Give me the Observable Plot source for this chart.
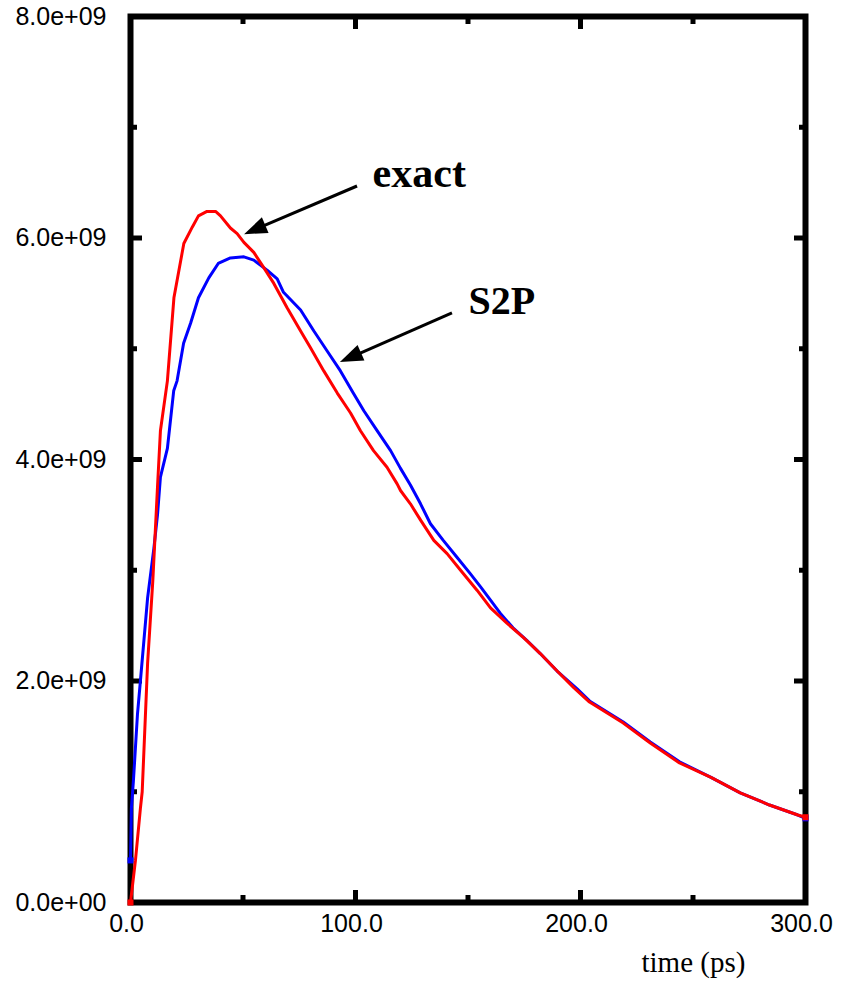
<!DOCTYPE html>
<html>
<head>
<meta charset="utf-8">
<script src="https://cdn.jsdelivr.net/npm/d3@7"></script>
<script src="https://cdn.jsdelivr.net/npm/@observablehq/plot@0.6"></script>
<style>
  html, body { margin: 0; padding: 0; background: #fff; }
</style>
</head>
<body>
<div id="chart"></div>
<script>
// Time axis (ps)
const xTicks = [0, 100, 200, 300];
const xTickLabels = ["0.0", "100.0", "200.0", "300.0"];
const xMinorTicks = [50, 150, 250];
const xTitle = "time (ps)";

// Value axis, in units of 1e9
const yTicks = [0, 2, 4, 6, 8];
const yTickLabels = ["0.0e+00", "2.0e+09", "4.0e+09", "6.0e+09", "8.0e+09"];
const yMinorTicks = [1, 3, 5, 7];

// Exact solution
const tExact = [0, 2.2, 4.4, 5.2, 7.6, 9.9, 12, 13.3, 16.4, 19.3, 23.7, 27.5, 30.2, 34, 37.8, 40, 44.4, 47.4, 50.4, 54.8, 59.3, 63.7, 69.6, 75.6, 80, 85.9, 91.9, 97.8, 102.2, 108, 114, 118.5, 120, 124.4, 129, 134.8, 140.7, 146.7, 154, 160, 167.4, 174.8, 182, 189.6, 197, 204, 219, 231, 244, 258, 271, 284, 296.6, 300];
const vExact = [0, 0.38, 0.85, 1.0, 2.16, 2.9, 3.75, 4.26, 4.71, 5.46, 5.95, 6.1, 6.2, 6.24, 6.24, 6.2, 6.09, 6.04, 5.96, 5.87, 5.73, 5.59, 5.37, 5.16, 5.01, 4.8, 4.6, 4.42, 4.26, 4.08, 3.93, 3.78, 3.72, 3.6, 3.45, 3.27, 3.15, 3.0, 2.82, 2.66, 2.52, 2.39, 2.25, 2.09, 1.94, 1.81, 1.62, 1.44, 1.26, 1.13, 0.99, 0.88, 0.79, 0.77];

// S2P solution
const tS2P = [0, 0.4, 1.3, 3.1, 4.4, 7.6, 10.4, 12, 13.3, 16.4, 19.2, 20.7, 23.6, 26.7, 30.2, 34.8, 39, 44.4, 50.4, 54.8, 60.7, 65.2, 68, 75.6, 81.5, 87.4, 93.3, 99, 103.7, 109.6, 115.6, 120, 124.4, 128.9, 133.3, 139, 145, 151, 155.6, 160, 164.4, 170, 176, 182, 189.6, 198.5, 204, 219, 231, 244, 258, 271, 284, 296.6, 300];
const vS2P = [0.38, 0.85, 1.1, 1.7, 2.0, 2.75, 3.2, 3.5, 3.84, 4.1, 4.62, 4.71, 5.05, 5.23, 5.46, 5.64, 5.77, 5.82, 5.83, 5.8, 5.71, 5.63, 5.51, 5.35, 5.16, 4.98, 4.8, 4.6, 4.44, 4.26, 4.08, 3.92, 3.77, 3.6, 3.42, 3.27, 3.12, 2.97, 2.85, 2.73, 2.61, 2.48, 2.37, 2.25, 2.09, 1.93, 1.82, 1.63, 1.45, 1.27, 1.13, 0.99, 0.88, 0.79, 0.76];

// Curve labels and their arrows (label anchor, arrow tail and head)
const labelNames = ["exact", "S2P"];
const labelT = [107.6, 150.2];
const labelV = [6.456, 5.31];
const labelSize = [42, 40];
const arrowT1 = [100.9, 143.1];
const arrowV1 = [6.465, 5.32];
const arrowT2 = [50.7, 93.3];
const arrowV2 = [6.03, 4.876];

const exact = tExact.map((t, i) => ({t, v: vExact[i]}));
const s2p = tS2P.map((t, i) => ({t, v: vS2P[i]}));
const labels = labelNames.map((name, i) => ({name, t: labelT[i], v: labelV[i], size: labelSize[i]}));
const arrows = arrowT1.map((t1, i) => ({t1, v1: arrowV1[i], t2: arrowT2[i], v2: arrowV2[i]}));
const ends = (rows) => [rows[0], rows[rows.length - 1]];

// Arrows with solid triangular heads, placed through the plot's scales
function filledArrows(data) {
  return (index, scales) => {
    const g = d3.create("svg:g");
    for (const a of data) {
      const x1 = scales.x(a.t1), y1 = scales.y(a.v1);
      const x2 = scales.x(a.t2), y2 = scales.y(a.v2);
      const ang = Math.atan2(y2 - y1, x2 - x1);
      const L = 23, W = 8.5;
      const bx = x2 - L * Math.cos(ang), by = y2 - L * Math.sin(ang);
      const nx = -Math.sin(ang) * W, ny = Math.cos(ang) * W;
      g.append("line")
        .attr("x1", x1).attr("y1", y1).attr("x2", bx + 2 * Math.cos(ang)).attr("y2", by + 2 * Math.sin(ang))
        .attr("stroke", "black").attr("stroke-width", 3);
      g.append("polygon")
        .attr("points", `${x2},${y2} ${bx + nx},${by + ny} ${bx - nx},${by - ny}`)
        .attr("fill", "black");
    }
    return g.node();
  };
}

const tickFont = "Liberation Sans, Arial, Helvetica, sans-serif";
const serifFont = "Liberation Serif, Times New Roman, Times, serif";

const chart = Plot.plot({
  width: 845,
  height: 986,
  marginLeft: 130,
  marginRight: 40,
  marginTop: 16,
  marginBottom: 84,
  style: {fontFamily: tickFont, fontSize: "25px", color: "black", background: "white", overflow: "visible"},
  x: {domain: [0, 300]},
  y: {domain: [0, 8]},
  marks: [
    // inward tick marks on all four sides
    Plot.axisY({ticks: yTicks, anchor: "left", tickSize: -12, strokeWidth: 5, tickFormat: () => "", label: null}),
    Plot.axisY({ticks: yMinorTicks, anchor: "left", tickSize: -7, strokeWidth: 5, tickFormat: () => "", label: null}),
    Plot.axisY({ticks: yTicks, anchor: "right", tickSize: -12, strokeWidth: 5, tickFormat: () => "", label: null}),
    Plot.axisY({ticks: yMinorTicks, anchor: "right", tickSize: -7, strokeWidth: 5, tickFormat: () => "", label: null}),
    Plot.axisX({ticks: xTicks, anchor: "bottom", tickSize: -12, strokeWidth: 5, tickFormat: () => "", label: null}),
    Plot.axisX({ticks: xMinorTicks, anchor: "bottom", tickSize: -7, strokeWidth: 5, tickFormat: () => "", label: null}),
    Plot.axisX({ticks: xTicks, anchor: "top", tickSize: -12, strokeWidth: 5, tickFormat: () => "", label: null}),
    Plot.axisX({ticks: xMinorTicks, anchor: "top", tickSize: -7, strokeWidth: 5, tickFormat: () => "", label: null}),
    // tick labels
    Plot.axisY({ticks: yTicks, anchor: "left", tickSize: 0, tickPadding: 24, label: null,
      tickFormat: d => yTickLabels[yTicks.indexOf(d)], fontSize: 25}),
    Plot.axisX({ticks: xTicks, anchor: "bottom", tickSize: 0, tickPadding: 12, label: null, dx: -4,
      tickFormat: d => xTickLabels[xTicks.indexOf(d)], fontSize: 25}),
    // frame
    Plot.frame({stroke: "black", strokeWidth: 6}),
    // curves, with square markers at their end points
    Plot.line(s2p, {x: "t", y: "v", stroke: "#0000ff", strokeWidth: 3}),
    Plot.dot(ends(s2p), {x: "t", y: "v", symbol: "square", r: 3.4, fill: "#0000ff"}),
    Plot.line(exact, {x: "t", y: "v", stroke: "#ff0000", strokeWidth: 3}),
    Plot.dot(ends(exact), {x: "t", y: "v", symbol: "square", r: 3.4, fill: "#ff0000"}),
    // annotations
    filledArrows(arrows),
    Plot.text(labels, {x: "t", y: "v", text: "name", fontSize: d => d.size, fontWeight: "bold",
      fontFamily: serifFont, textAnchor: "start", lineAnchor: "bottom", fill: "black"}),
    Plot.text([xTitle], {x: () => 250.2, y: () => -0.632, text: d => d, fontFamily: serifFont,
      fontSize: 29, textAnchor: "middle", lineAnchor: "bottom", fill: "black"})
  ]
});

document.getElementById("chart").appendChild(chart);
</script>
</body>
</html>
